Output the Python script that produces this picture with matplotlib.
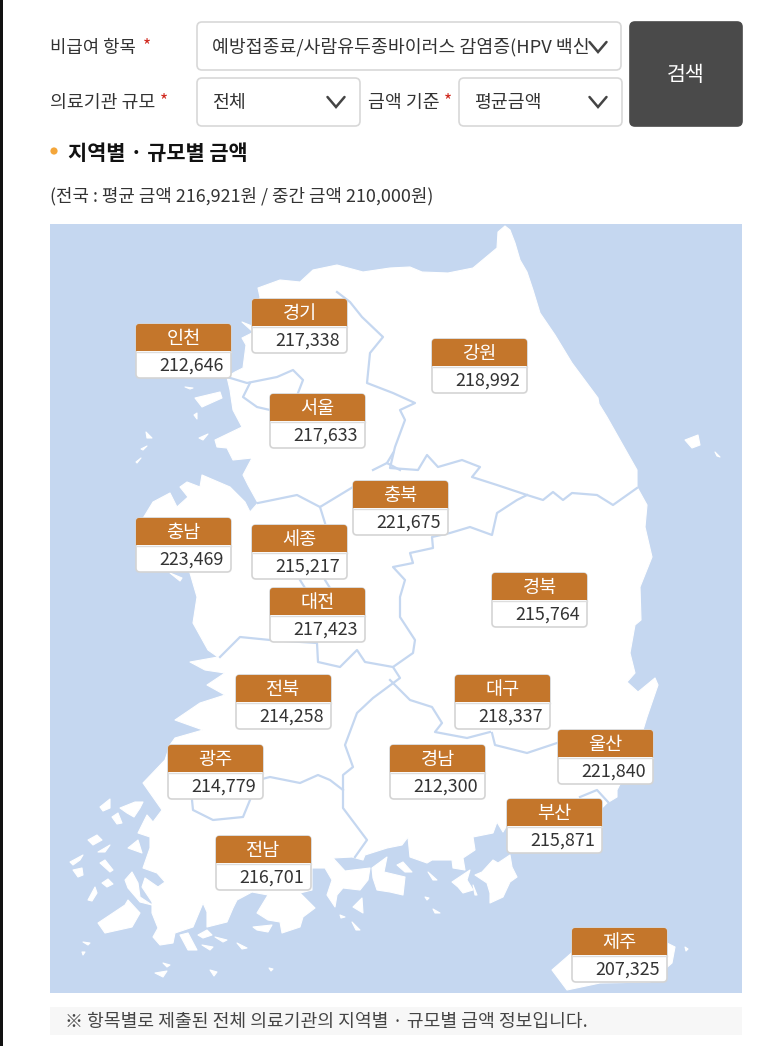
import matplotlib
matplotlib.use('Agg')
import matplotlib.pyplot as plt
from matplotlib.patches import FancyBboxPatch, Polygon, Rectangle, Circle

plt.rcParams['font.family'] = ['Noto Sans CJK KR', 'DejaVu Sans']

regions = ['인천', '경기', '서울', '강원', '충북', '충남', '세종', '대전', '경북',
           '전북', '대구', '광주', '경남', '울산', '부산', '전남', '제주']
values = [212646, 217338, 217633, 218992, 221675, 223469, 215217, 217423, 215764,
          214258, 218337, 214779, 212300, 221840, 215871, 216701, 207325]

# top left corner of each label, in pixels of the page
label_x = [136, 252, 270, 432, 353, 136, 252, 270, 492, 236, 455, 168, 390, 558, 507, 216, 572]
label_y = [324, 299, 394, 339, 481, 518, 525, 588, 573, 675, 675, 745, 745, 730, 799, 836, 928]

# map outline
mainland = [(505, 226), (510, 230), (515, 243), (520, 260), (527, 272), (533, 290), (540, 313), (555, 335),
            (572, 363), (598, 398), (599, 404), (607, 417), (620, 440), (637, 470), (637, 487), (647, 505),
            (645, 527), (652, 557), (640, 587), (641, 620), (635, 625), (630, 653), (635, 673),
            (627, 682), (638, 692), (655, 678), (658, 685), (647, 717), (643, 730), (630, 765),
            (617, 790), (617, 797), (607, 803), (600, 810), (560, 820), (507, 825), (503, 832),
            (497, 822), (493, 833), (473, 837), (475, 850), (463, 858), (465, 870), (453, 868),
            (452, 860), (432, 860), (427, 863), (410, 857), (408, 837), (402, 845), (387, 848),
            (365, 855), (363, 860), (352, 857), (333, 858), (345, 871), (370, 868), (368, 880),
            (360, 890), (343, 888), (337, 895), (335, 907), (327, 895), (332, 880), (325, 868),
            (312, 868), (312, 890), (300, 893), (315, 908), (303, 917), (300, 927), (282, 933),
            (280, 922), (268, 920), (257, 913), (268, 895), (252, 892), (237, 900), (233, 908),
            (227, 922), (207, 927), (207, 912), (203, 903), (193, 927), (175, 933), (173, 943),
            (160, 945), (153, 937), (158, 928), (152, 913), (152, 902), (142, 887), (145, 878),
            (158, 887), (165, 882), (157, 873), (143, 868), (150, 848), (150, 837), (138, 833),
            (147, 815), (153, 822), (162, 810), (143, 783), (165, 760), (170, 745), (175, 738),
            (203, 730), (175, 720), (200, 703), (225, 695), (207, 685), (225, 673), (205, 670),
            (190, 662), (218, 657), (208, 650), (193, 623), (197, 597), (190, 573), (160, 540),
            (142, 520), (153, 502), (170, 493), (177, 507), (188, 497), (180, 487), (187, 482),
            (200, 487), (202, 475), (230, 487), (245, 502), (250, 512), (258, 503), (248, 485),
            (243, 475), (252, 458), (233, 460), (227, 448), (217, 447), (215, 440), (242, 427),
            (233, 410), (230, 390), (227, 377), (235, 372), (243, 368), (246, 345), (242, 338),
            (252, 333), (260, 297), (258, 288), (280, 280), (300, 282), (313, 270), (337, 265),
            (363, 272), (390, 268), (410, 267), (422, 272), (448, 273), (473, 268), (497, 248),
            (498, 232)]

islands = [
    # jeju, ulleung, dokdo
    [(552, 970), (575, 950), (620, 940), (667, 943), (675, 947), (672, 963), (650, 982), (600, 983), (567, 990)],
    [(685, 440), (698, 435), (700, 445), (692, 448)],
    [(715, 452), (720, 457), (717, 456)],
    [(685, 947), (688, 949), (686, 951)],
    # south coast
    [(482, 872), (493, 860), (498, 863), (510, 855), (512, 867), (517, 877), (510, 882), (503, 897), (490, 903), (490, 893), (487, 883), (475, 875)],
    [(452, 882), (470, 870), (467, 880), (473, 890), (463, 893), (458, 887)],
    [(372, 868), (387, 857), (384, 872), (405, 877), (403, 895), (390, 892), (377, 890), (373, 878)],
    [(397, 865), (403, 862), (412, 872), (405, 872)],
    [(428, 872), (437, 880), (433, 880)],
    [(425, 897), (429, 898), (427, 900)],
    [(433, 909), (440, 913), (435, 913)],
    [(353, 907), (362, 898), (363, 913)],
    [(340, 915), (345, 917), (341, 918)],
    [(352, 922), (360, 930), (356, 930)],
    [(473, 885), (477, 895), (475, 895)],
    # southwest islands
    [(98, 923), (125, 905), (128, 900), (140, 913), (132, 927), (105, 933)],
    [(125, 880), (132, 872), (138, 883), (140, 897), (152, 905), (140, 902), (128, 888)],
    [(100, 807), (110, 799), (110, 808), (103, 811)],
    [(120, 808), (135, 802), (143, 802), (140, 808), (134, 817), (127, 813)],
    [(112, 817), (118, 813), (122, 823), (117, 824)],
    [(88, 840), (97, 835), (102, 840), (93, 845)],
    [(98, 852), (110, 845), (105, 852)],
    [(100, 863), (105, 860), (113, 870), (110, 872)],
    [(70, 862), (83, 855), (80, 860), (73, 865)],
    [(73, 870), (82, 868), (83, 875), (78, 877)],
    [(102, 883), (108, 879), (113, 884), (107, 887)],
    [(128, 848), (138, 840), (142, 853)],
    [(88, 900), (95, 887), (97, 893), (92, 901)],
    [(180, 935), (188, 933), (197, 950), (188, 950)],
    [(198, 935), (207, 930), (212, 935), (203, 938)],
    [(215, 937), (227, 940), (223, 942)],
    [(202, 945), (213, 947), (210, 950)],
    [(237, 943), (247, 948), (242, 949)],
    [(253, 927), (272, 925), (268, 932), (257, 930)],
    [(155, 973), (167, 971), (163, 977)],
    [(163, 963), (170, 965), (167, 967)],
    [(210, 970), (217, 972), (214, 976)],
    [(83, 942), (90, 943), (88, 945)],
    [(82, 952), (85, 952), (83, 955)],
    [(269, 968), (273, 969), (271, 971)],
    # west coast islands
    [(195, 398), (220, 392), (222, 398), (202, 407)],
    [(185, 387), (193, 388), (190, 389)],
    [(194, 415), (197, 413), (197, 419)],
    [(146, 432), (152, 438), (147, 438)],
    [(199, 438), (208, 434), (203, 440)],
    [(141, 449), (147, 446), (143, 450)],
    [(136, 462), (141, 458), (137, 463)],
    [(170, 573), (182, 578), (180, 581)],
    [(242, 322), (252, 326), (252, 331)],
]

borders = [
    [(337, 292), (350, 302), (362, 317), (383, 337), (370, 353), (367, 383), (393, 393), (415, 403),
     (400, 410), (405, 420), (395, 447), (390, 468), (418, 470), (427, 455), (438, 467), (462, 460),
     (480, 467), (472, 477), (497, 485), (527, 495), (543, 500), (553, 492), (563, 500), (572, 493),
     (597, 495), (613, 505), (637, 488)],
    [(527, 495), (517, 500), (497, 513), (492, 535), (470, 527), (450, 533), (432, 537), (433, 548),
     (410, 553), (413, 563), (393, 567), (405, 580), (400, 597), (400, 617), (415, 640), (413, 653),
     (393, 667), (400, 678), (373, 698), (357, 713), (345, 745), (353, 767), (343, 775), (343, 808),
     (367, 840), (355, 857)],
    [(343, 790), (330, 780), (318, 775), (300, 783), (270, 777), (250, 782)],
    [(192, 800), (193, 810), (213, 820), (243, 817), (250, 800)],
    [(390, 680), (410, 700), (432, 707), (442, 723), (435, 732), (467, 738), (490, 732)],
    [(492, 733), (495, 745), (527, 753), (557, 743)],
    [(580, 797), (597, 790), (608, 802)],
    [(258, 503), (297, 495), (320, 507), (353, 487)],
    [(320, 507), (325, 523)],
    [(220, 657), (240, 637), (270, 640), (317, 643), (318, 662), (340, 667), (357, 650), (365, 662), (393, 667)],
    [(227, 377), (247, 383), (277, 377), (293, 370), (303, 380), (298, 393)],
    [(250, 383), (243, 397), (257, 407), (270, 410)],
    [(373, 470), (387, 463), (400, 470)],
    [(393, 453), (387, 463)],
    [(300, 580), (305, 588)],
    [(325, 580), (330, 588)],
]

chevrons = [(598, 47), (336, 102), (598, 102)]

fig = plt.figure(figsize=(7.73, 10.46), dpi=100, facecolor='white')
ax = fig.add_axes([0, 0, 1, 1])
ax.set_xlim(0, 773)
ax.set_ylim(1046, 0)
ax.axis('off')

ax.add_patch(Rectangle((0, 0), 3, 1046, color='#111111', lw=0))


def box(x0, y0, w, h, fc, ec='#d8d8d8', r=5, lw=1.2, z=2):
    p = FancyBboxPatch((x0 + r, y0 + r), w - 2 * r, h - 2 * r, boxstyle=f'round,pad={r}',
                       fc=fc, ec=ec, lw=lw, zorder=z)
    ax.add_patch(p)
    return p


# search form
box(197, 22, 424, 48, 'white')
box(197, 78, 163, 48, 'white')
box(459, 78, 163, 48, 'white')
box(630, 22, 112, 104, '#4a4a4a', ec='#4a4a4a')
for cx, cy in chevrons:
    ax.plot([cx - 8.5, cx, cx + 8.5], [cy - 5, cy + 5, cy - 5], color='#444444', lw=1.8,
            solid_capstyle='round', solid_joinstyle='miter', zorder=3)

form_c = '#333333'
ax.text(50, 47.5, '비급여 항목', fontsize=12.8, color=form_c, va='center')
ax.text(143, 46, '*', fontsize=12.5, color='#d0281e', va='center')
ax.text(50, 103, '의료기관 규모', fontsize=13.2, color=form_c, va='center')
ax.text(160, 101, '*', fontsize=12.5, color='#d0281e', va='center')
ax.text(368, 103, '금액 기준', fontsize=13.2, color=form_c, va='center')
ax.text(444, 101, '*', fontsize=12.5, color='#d0281e', va='center')
ax.text(212, 47.5, '예방접종료/사람유두종바이러스 감염증(HPV 백신', fontsize=13.2, color=form_c, va='center')
ax.text(212, 103, '전체', fontsize=13.2, color=form_c, va='center')
ax.text(474, 103, '평균금액', fontsize=13.2, color=form_c, va='center')
ax.text(686, 75, '검색', fontsize=14.8, color='white', va='center', ha='center')

ax.add_patch(Circle((54, 151), 3.6, color='#f4a63a', lw=0))
ax.text(68, 154, '지역별 · 규모별 금액', fontsize=15, fontweight='bold', color='#111111', va='center')
ax.text(50, 196.5, '(전국 : 평균 금액 216,921원 / 중간 금액 210,000원)', fontsize=12.9, color=form_c, va='center')

# map
sea = '#c5d7f0'
ax.add_patch(Rectangle((50, 224), 692, 769, color=sea, lw=0, zorder=1))
ax.add_patch(Polygon(mainland, closed=True, fc='white', ec='white', lw=0.8, joinstyle='round', zorder=1.2))
for isl in islands:
    ax.add_patch(Polygon(isl, closed=True, fc='white', ec='white', lw=0.8, joinstyle='round', zorder=1.2))
for line in borders:
    xs, ys = zip(*line)
    ax.plot(xs, ys, color=sea, lw=1.6, zorder=1.4, solid_joinstyle='round')

# region labels
orange = '#c4762b'
for name, val, x, y in zip(regions, values, label_x, label_y):
    box(x, y, 95, 54, 'white', ec='#d4d4d4', r=4, lw=1.2, z=3)
    box(x, y, 95, 27, orange, ec=orange, r=3, lw=0, z=4)
    ax.add_patch(Rectangle((x, y + 14), 95, 13, color=orange, lw=0, zorder=4))
    ax.plot([x, x + 95], [y + 27.5, y + 27.5], color='#dddddd', lw=1, zorder=4.5)
    ax.text(x + 47.5, y + 15, name, fontsize=13.4, color='white', ha='center', va='center', zorder=5)
    ax.text(x + 88, y + 42, f'{val:,}', fontsize=12.9, color='#333333', ha='right', va='center', zorder=5)

# footnote
ax.add_patch(Rectangle((50, 1007), 692, 28, color='#f7f7f7', lw=0))
ax.text(65, 1022, '※ 항목별로 제출된 전체 의료기관의 지역별 · 규모별 금액 정보입니다.', fontsize=13.1,
        color='#444444', va='center')

fig.savefig('out.png', dpi=100)
